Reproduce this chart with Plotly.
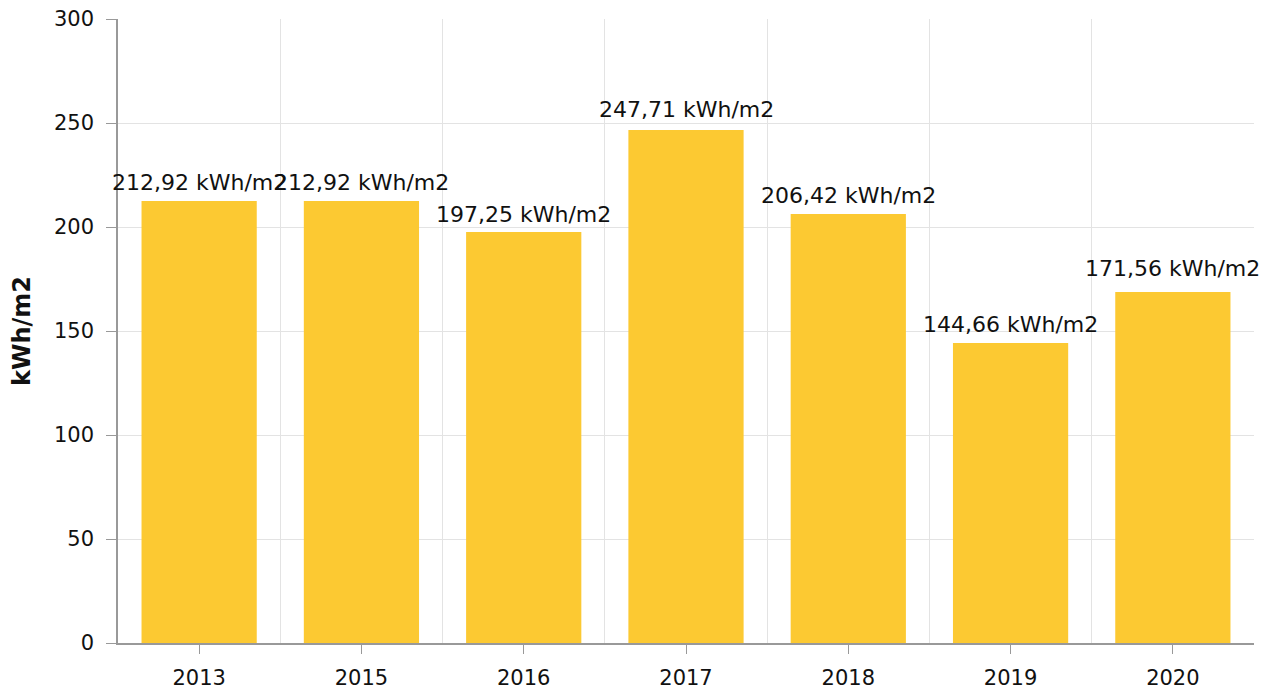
import plotly.graph_objects as go

years = ['2013', '2015', '2016', '2017', '2018', '2019', '2020']
# values printed on the labels
values = [212.92, 212.92, 197.25, 247.71, 206.42, 144.66, 171.56]
# bar heights as drawn in the picture (slightly below the printed values)
heights = [212.5, 212.5, 197.6, 246.6, 206.3, 144.2, 168.8]
labels = [f"{v:.2f}".replace('.', ',') + ' kWh/m2' for v in values]

positions = list(range(len(years)))

fig = go.Figure()
fig.add_trace(go.Bar(
    x=positions,
    y=heights,
    marker=dict(color='#FCC932', line=dict(width=0)),
    hoverinfo='skip',
))

for p, v, t in zip(positions, values, labels):
    fig.add_annotation(
        x=p, y=v, text=t, showarrow=False,
        yanchor='middle', yshift=18,
        font=dict(size=22, color='#111111'),
    )

fig.update_layout(
    width=1266,
    height=685,
    margin=dict(l=110, r=20, t=11, b=50, autoexpand=False),
    paper_bgcolor='white',
    plot_bgcolor='white',
    font=dict(family='DejaVu Sans, Verdana, sans-serif', size=21, color='#111111'),
    bargap=0.29,
    showlegend=False,
    xaxis=dict(
        range=[-0.5, 6.5],
        tickvals=positions,
        ticktext=years,
        ticks='outside',
        ticklen=9,
        tickcolor='#999999',
        ticklabelstandoff=6,
        automargin=False,
        showgrid=False,
        showline=True,
        linecolor='#999999',
        linewidth=1.5,
        minor=dict(tickvals=[p + 0.5 for p in positions], showgrid=True,
                   gridcolor='#e3e3e3', gridwidth=1, ticks=''),
        zeroline=False,
        fixedrange=True,
    ),
    yaxis=dict(
        range=[0, 300],
        dtick=50,
        ticks='outside',
        ticklen=10,
        tickcolor='#999999',
        ticklabeloverflow='allow',
        ticklabelstandoff=8,
        automargin=False,
        showgrid=True,
        gridcolor='#e3e3e3',
        gridwidth=1,
        showline=True,
        linecolor='#999999',
        linewidth=1.5,
        zeroline=False,
        title=dict(text='<b>kWh/m2</b>', font=dict(size=24), standoff=20),
        fixedrange=True,
    ),
)

fig.write_html("out.html")
